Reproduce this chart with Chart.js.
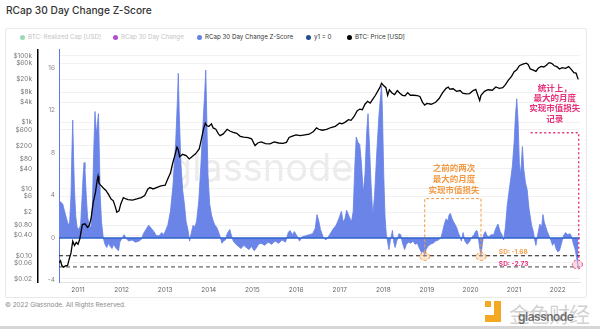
<!DOCTYPE html>
<html lang="zh">
<head>
  <meta charset="UTF-8">
  <title>RCap 30 Day Change Z-Score</title>
  <script src="https://cdn.jsdelivr.net/npm/chart.js"></script>
  <style>
    body {
      margin: 0;
      width: 600px;
      height: 329px;
      background: #fff;
      font-family: Inter, 'Noto Sans', sans-serif;
      position: relative;
      overflow: hidden;
    }
    .title { position: absolute; left: 6px; top: 4px; font-size: 10.2px; font-weight: 500; color: #333; }
    .card { position: absolute; left: 5px; top: 28px; width: 582px; height: 270px; border: 1px solid #e9e9e9; box-sizing: border-box; border-radius: 2px; }
    .item { position: absolute; top: 33px; font-size: 6.2px; line-height: 8px; white-space: nowrap; display: flex; align-items: center; color: #333; }
    .item.off { color: #c4c4c4; }
    .dot { width: 5px; height: 5px; border-radius: 50%; display: inline-block; margin-right: 3px; }
    #chart { position: absolute; left: 5px; top: 40px; }
    .footer { position: absolute; left: 5px; top: 301px; font-size: 6.4px; color: #8a8a8a; }
    .bottom-bar { position: absolute; left: 0; top: 326px; width: 600px; height: 3px; background: #d6d6d6; }
    .logo { position: absolute; background: #f3a922; }
    .logo-text { position: absolute; left: 509px; top: 298px; font-family: 'Noto Sans CJK SC'; font-size: 21px; color: rgba(150,150,150,0.45); letter-spacing: -1px; }
    .logo-sub { position: absolute; left: 518px; top: 309px; font-size: 12px; font-weight: 600; color: rgba(70,70,70,0.75); letter-spacing: -0.5px; }
  </style>
</head>
<body>
  <div class="title">RCap 30 Day Change Z-Score</div>
  <div class="card"></div>
  <div class="item off" style="left:20px"><span class="dot" style="background:#9adbb3"></span>BTC: Realized Cap [USD]</div>
  <div class="item off" style="left:113px"><span class="dot" style="background:#b04fcc"></span>RCap 30 Day Change</div>
  <div class="item" style="left:197px"><span class="dot" style="background:#6580e6"></span>RCap 30 Day Change Z-Score</div>
  <div class="item" style="left:306px"><span class="dot" style="background:#1f4f8f"></span>y1 = 0</div>
  <div class="item" style="left:347px"><span class="dot" style="background:#000"></span>BTC: Price [USD]</div>
  <canvas id="chart" width="582" height="257"></canvas>
  <div class="footer">© 2022 Glassnode. All Rights Reserved.</div>
  <div class="logo" style="left:485px;top:301px;width:6px;height:6px"></div>
  <div class="logo" style="left:494px;top:301px;width:7px;height:21px"></div>
  <div class="logo" style="left:485px;top:315px;width:16px;height:7px"></div>
  <div class="logo-text">金色财经</div>
  <div class="logo-sub">glassnode</div>
  <div class="bottom-bar"></div>
  <script>
    // 연도(소수) / Z-Score
    const zYears = [
      2010.56,2010.60,2010.65,2010.70,2010.74,2010.78,2010.81,2010.84,2010.86,2010.88,
      2010.90,2010.92,2010.95,2010.98,2011.02,2011.06,2011.09,2011.12,2011.14,2011.16,
      2011.19,2011.22,2011.26,2011.30,2011.33,2011.36,2011.39,2011.42,2011.44,2011.47,
      2011.49,2011.51,2011.54,2011.58,2011.62,2011.66,2011.70,2011.74,2011.78,2011.82,
      2011.86,2011.90,2011.93,2011.96,2012.00,2012.06,2012.10,2012.16,2012.24,2012.32,
      2012.40,2012.46,2012.50,2012.56,2012.62,2012.68,2012.74,2012.80,2012.86,2012.92,
      2012.96,2013.00,2013.06,2013.12,2013.18,2013.24,2013.28,2013.30,2013.32,2013.36,
      2013.40,2013.44,2013.48,2013.52,2013.56,2013.60,2013.64,2013.68,2013.72,2013.77,
      2013.82,2013.87,2013.91,2013.93,2013.95,2013.98,2014.02,2014.06,2014.10,2014.14,
      2014.18,2014.22,2014.26,2014.30,2014.34,2014.38,2014.42,2014.48,2014.52,2014.56,
      2014.62,2014.68,2014.74,2014.80,2014.86,2014.92,2014.98,2015.04,2015.08,2015.14,
      2015.20,2015.28,2015.36,2015.44,2015.52,2015.60,2015.68,2015.76,2015.82,2015.86,
      2015.92,2015.96,2016.02,2016.08,2016.14,2016.22,2016.30,2016.38,2016.44,2016.48,
      2016.52,2016.56,2016.62,2016.68,2016.74,2016.80,2016.86,2016.92,2016.98,2017.04,
      2017.08,2017.12,2017.16,2017.22,2017.27,2017.31,2017.35,2017.38,2017.42,2017.46,
      2017.50,2017.54,2017.58,2017.62,2017.65,2017.68,2017.72,2017.76,2017.80,2017.85,
      2017.90,2017.94,2017.96,2017.98,2018.01,2018.04,2018.07,2018.10,2018.13,2018.16,
      2018.21,2018.24,2018.27,2018.31,2018.36,2018.40,2018.44,2018.49,2018.53,2018.58,
      2018.63,2018.68,2018.73,2018.78,2018.83,2018.88,2018.92,2018.95,2018.98,2019.02,
      2019.08,2019.14,2019.20,2019.26,2019.32,2019.36,2019.40,2019.44,2019.48,2019.51,
      2019.54,2019.57,2019.60,2019.64,2019.68,2019.72,2019.75,2019.79,2019.83,2019.87,
      2019.92,2019.97,2020.02,2020.08,2020.13,2020.16,2020.20,2020.24,2020.27,2020.30,
      2020.34,2020.38,2020.42,2020.47,2020.53,2020.58,2020.63,2020.68,2020.72,2020.76,
      2020.80,2020.84,2020.88,2020.92,2020.96,2021.00,2021.03,2021.06,2021.09,2021.12,
      2021.15,2021.19,2021.22,2021.26,2021.30,2021.34,2021.40,2021.44,2021.47,2021.50,
      2021.54,2021.59,2021.63,2021.66,2021.69,2021.72,2021.76,2021.80,2021.84,2021.88,
      2021.92,2021.96,2022.00,2022.04,2022.08,2022.13,2022.18,2022.23,2022.28,2022.32,
      2022.36,2022.40,2022.43,2022.45,2022.47
    ];
    const zScores = [
      3.0,3.4,3.2,2.4,1.8,1.2,1.5,4.0,8.0,11.1,
      7.5,4.5,2.0,1.0,0.8,1.2,3.5,6.0,7.1,6.5,
      4.0,2.0,1.1,1.0,3.0,8.0,11.9,9.8,10.5,11.7,
      8.0,4.0,1.5,0.0,-0.6,-0.9,-0.5,-0.8,-1.0,-0.6,
      -0.9,-1.1,-1.2,-0.4,-0.1,0.3,0.0,-0.3,-0.2,-0.4,
      -0.3,-0.1,0.4,0.8,1.2,0.9,0.6,0.2,0.2,0.5,
      0.3,0.6,1.2,2.5,5.0,9.0,13.0,15.5,12.0,7.0,
      4.5,3.2,1.5,0.8,-0.3,0.5,1.2,1.0,1.6,3.5,
      7.0,11.0,14.0,15.8,12.0,6.0,3.2,2.2,1.6,1.2,
      1.0,0.6,0.1,-0.5,-0.3,-0.2,0.4,0.8,0.2,-0.3,
      -0.6,-0.8,-1.0,-0.7,-0.9,-1.1,-0.8,-1.2,-1.0,-0.6,
      -0.5,-0.7,-0.4,-0.6,-0.3,-0.5,-0.2,-0.4,0.5,0.7,
      0.3,0.6,0.2,-0.3,0.1,0.2,0.3,0.4,0.9,2.2,
      1.6,0.8,0.1,-0.2,0.1,0.5,0.9,1.2,1.8,2.5,
      1.5,1.8,2.6,2.0,1.5,2.5,7.0,9.5,9.0,8.8,
      7.0,4.2,6.0,10.0,11.7,9.0,5.0,2.1,4.0,8.0,
      11.5,13.5,14.3,12.0,6.0,2.0,0.3,-0.4,-1.1,-0.3,
      0.7,-0.4,-0.9,-0.3,0.4,0.3,-0.5,-1.1,-0.6,-0.4,
      -0.5,-0.3,-0.6,-0.5,-1.0,-1.4,-1.2,-1.75,-1.1,-0.8,
      -0.6,-0.5,-0.3,-0.2,0.0,0.6,1.3,1.8,1.6,2.2,
      2.3,1.9,1.6,1.3,1.0,0.5,0.2,-0.3,0.5,-0.3,
      -0.6,-0.4,0.0,0.3,0.7,0.6,-0.6,-1.75,-0.6,0.3,
      0.6,0.2,0.1,0.3,0.3,0.9,1.3,0.6,0.3,-0.2,
      1.0,3.0,4.3,5.5,6.8,9.0,11.5,13.1,11.0,7.0,
      6.0,8.6,6.5,5.2,4.5,2.8,1.2,0.6,-0.2,-0.7,
      0.3,1.3,1.0,2.2,1.5,1.1,0.6,0.2,-0.2,-0.7,
      -0.4,-1.0,-1.3,-1.2,-0.6,0.2,0.5,0.3,0.4,0.1,
      -0.6,-1.1,-1.8,-2.3,-2.8
    ];

    // 연도(소수) / BTC 가격 (USD)
    const priceYears = [
      2010.56,2010.60,2010.63,2010.67,2010.72,2010.76,2010.80,2010.84,2010.88,2010.92,
      2010.96,2011.00,2011.04,2011.10,2011.16,2011.22,2011.26,2011.30,2011.35,2011.40,
      2011.44,2011.46,2011.48,2011.52,2011.58,2011.64,2011.70,2011.76,2011.81,2011.86,
      2011.89,2011.94,2011.98,2012.04,2012.10,2012.15,2012.25,2012.35,2012.45,2012.53,
      2012.60,2012.65,2012.72,2012.80,2012.90,2013.00,2013.05,2013.12,2013.17,2013.22,
      2013.27,2013.30,2013.33,2013.40,2013.48,2013.55,2013.62,2013.70,2013.78,2013.82,
      2013.88,2013.92,2013.95,2014.00,2014.06,2014.10,2014.16,2014.22,2014.26,2014.33,
      2014.42,2014.48,2014.56,2014.64,2014.72,2014.80,2014.90,2014.98,2015.06,2015.12,
      2015.20,2015.30,2015.40,2015.50,2015.60,2015.70,2015.78,2015.84,2015.90,2016.00,
      2016.10,2016.20,2016.30,2016.40,2016.47,2016.52,2016.60,2016.70,2016.80,2016.90,
      2017.00,2017.05,2017.12,2017.20,2017.26,2017.33,2017.40,2017.46,2017.52,2017.58,
      2017.64,2017.70,2017.76,2017.82,2017.88,2017.92,2017.96,2018.00,2018.06,2018.10,
      2018.14,2018.20,2018.26,2018.32,2018.38,2018.44,2018.50,2018.56,2018.62,2018.70,
      2018.78,2018.84,2018.90,2018.95,2019.00,2019.10,2019.20,2019.28,2019.36,2019.44,
      2019.49,2019.52,2019.60,2019.68,2019.76,2019.82,2019.90,2019.98,2020.06,2020.12,
      2020.21,2020.24,2020.32,2020.40,2020.50,2020.58,2020.66,2020.74,2020.80,2020.86,
      2020.94,2021.00,2021.06,2021.12,2021.20,2021.28,2021.32,2021.37,2021.44,2021.50,
      2021.55,2021.62,2021.68,2021.74,2021.80,2021.86,2021.92,2021.98,2022.04,2022.10,
      2022.18,2022.25,2022.31,2022.37,2022.42,2022.45,2022.47
    ];
    const prices = [
      0.06,0.07,0.05,0.045,0.05,0.05,0.08,0.12,0.27,0.2,
      0.25,0.22,0.31,0.85,0.9,0.7,0.8,1.3,4,7.8,
      18,24,15,13,10.7,9,6.9,5,4.4,2.8,
      2.0,2.2,3.5,5.5,5.0,4.8,4.6,5.0,5.5,6.3,
      9.8,11,10,11,12.3,13,19,30,58,100,
      180,150,93,110,100,80,95,115,160,275,
      650,950,800,750,900,680,620,450,400,450,
      620,550,500,470,380,360,350,320,200,240,
      260,230,225,260,240,235,250,350,380,420,
      400,420,440,530,680,620,580,620,700,760,
      950,900,1000,1200,1150,1500,2200,2500,2400,3500,
      4300,3800,5000,6500,9000,11000,15000,13000,11000,6500,
      9500,7600,6800,9000,7500,6500,6300,7800,6500,6500,
      6300,6000,4000,3300,3700,3500,4000,5200,7800,10500,
      11500,10000,10200,8500,9000,7500,7200,7300,9000,9800,
      4500,6500,8500,9500,9200,11500,10500,11000,13500,18000,
      24000,33000,38000,50000,56000,60000,55000,40000,37000,34000,
      42000,48000,46000,52000,62000,59000,50000,47000,40000,44000,
      42000,47000,39000,31000,30000,23000,19500
    ];

    const yearTicks = [2011,2012,2013,2014,2015,2016,2017,2018,2019,2020,2021,2022];
    const zTicks = [-4, 0, 4, 8, 12, 16];
    const priceTicks = [0.02,0.06,0.1,0.4,0.8,2,6,10,40,80,200,600,1000,4000,8000,20000,60000,100000];
    const priceTickLabels = ['$0.02','$0.06','$0.10','$0.40','$0.80','$2','$6','$10','$40','$80','$200','$600','$1k','$4k','$8k','$20k','$60k','$100k'];
    const sdLevels = [-1.68, -2.73];

    // 주석 위치 (연도, z 값)
    const lossDates = [2018.95, 2020.24];
    const recordDate = 2022.47;

    const xMin = 2010.565, xMax = 2022.51;

    Chart.defaults.font.family = 'Inter, sans-serif';
    Chart.defaults.font.size = 6.5;

    const notes = {
      id: 'notes',
      beforeDatasetsDraw(chart) {
        const { ctx } = chart;
        ctx.save();
        ctx.font = '400 38px Inter, sans-serif';
        ctx.fillStyle = '#ececec';
        ctx.textAlign = 'center';
        ctx.textBaseline = 'alphabetic';
        ctx.fillText('glassnode', chart.scales.x.getPixelForValue(2015.2), chart.scales.z.getPixelForValue(5.4));
        ctx.restore();
      },
      afterDatasetsDraw(chart) {
        const { ctx } = chart;
        const px = v => chart.scales.x.getPixelForValue(v);
        const py = v => chart.scales.z.getPixelForValue(v);
        ctx.save();

        // 이전 두 번의 최대 손실
        const orange = '#f39a45';
        ctx.strokeStyle = orange;
        ctx.lineWidth = 1;
        ctx.setLineDash([3, 2]);
        ctx.beginPath();
        ctx.moveTo(px(lossDates[0]), py(-1.35));
        ctx.lineTo(px(lossDates[0]), py(3.7));
        ctx.lineTo(px(lossDates[1]), py(3.7));
        ctx.lineTo(px(lossDates[1]), py(-1.35));
        ctx.stroke();
        lossDates.forEach(d => {
          ctx.beginPath();
          ctx.ellipse(px(d), py(-1.75), 5, 4, 0, 0, Math.PI * 2);
          ctx.fillStyle = 'rgba(250,200,150,0.45)';
          ctx.fill();
          ctx.stroke();
        });

        // 역대 최대 손실
        const pink = '#e8307a';
        ctx.strokeStyle = pink;
        ctx.lineWidth = 1.4;
        ctx.setLineDash([2, 2.5]);
        ctx.beginPath();
        ctx.moveTo(px(2021.38), py(9.9));
        ctx.lineTo(px(recordDate + 0.01), py(9.9));
        ctx.lineTo(px(recordDate + 0.01), py(-2.1));
        ctx.stroke();
        ctx.lineWidth = 1;
        ctx.beginPath();
        ctx.ellipse(px(recordDate - 0.02), py(-2.5), 5, 4.5, 0, 0, Math.PI * 2);
        ctx.fillStyle = 'rgba(245,170,200,0.45)';
        ctx.fill();
        ctx.stroke();
        ctx.setLineDash([]);

        ctx.textAlign = 'center';
        ctx.textBaseline = 'middle';
        ctx.font = 'bold 8.5px "Noto Sans CJK SC", sans-serif';
        ctx.fillStyle = orange;
        ['之前的两次', '最大的月度', '实现市值损失'].forEach((t, i) => {
          ctx.fillText(t, px(2019.62), py(6.6) + i * 11);
        });
        ctx.fillStyle = pink;
        ['统计上，', '最大的月度', '实现市值损失', '记录'].forEach((t, i) => {
          ctx.fillText(t, px(2021.93), py(14.15) + i * 10.3);
        });

        ctx.textAlign = 'left';
        ctx.font = 'bold 6.5px Inter, sans-serif';
        ctx.fillStyle = '#f0a050';
        ctx.fillText('SD: -1.68', px(2020.65), py(-1.33));
        ctx.fillStyle = pink;
        ctx.fillText('SD: -2.73', px(2020.65), py(-2.42));
        ctx.restore();
      }
    };

    const flat = v => [{ x: xMin, y: v }, { x: xMax, y: v }];

    new Chart(document.getElementById('chart'), {
      type: 'line',
      data: {
        datasets: [
          {
            label: 'BTC: Price [USD]',
            data: priceYears.map((x, i) => ({ x, y: prices[i] })),
            yAxisID: 'price',
            borderColor: '#000',
            borderWidth: 1.3,
            pointRadius: 0,
            fill: false
          },
          {
            label: 'SD -1.68',
            data: flat(sdLevels[0]),
            yAxisID: 'z',
            borderColor: '#1a1a1a',
            borderWidth: 1,
            borderDash: [4, 3],
            pointRadius: 0
          },
          {
            label: 'SD -2.73',
            data: flat(sdLevels[1]),
            yAxisID: 'z',
            borderColor: '#444',
            borderWidth: 1,
            borderDash: [4, 3],
            pointRadius: 0
          },
          {
            label: 'y1 = 0',
            data: flat(0),
            yAxisID: 'z',
            borderColor: '#2e62c8',
            borderWidth: 1.5,
            pointRadius: 0
          },
          {
            label: 'RCap 30 Day Change Z-Score',
            data: zYears.map((x, i) => ({ x, y: zScores[i] })),
            yAxisID: 'z',
            borderColor: '#6580e6',
            backgroundColor: '#6a84e8',
            borderWidth: 0.8,
            pointRadius: 0,
            fill: 'origin'
          }
        ]
      },
      options: {
        responsive: false,
        animation: false,
        layout: { padding: { left: 0, right: 7, top: 3, bottom: 0 } },
        plugins: { legend: { display: false }, tooltip: { enabled: false } },
        scales: {
          x: {
            type: 'linear',
            min: xMin,
            max: xMax,
            afterBuildTicks: axis => { axis.ticks = yearTicks.map(v => ({ value: v })); },
            afterFit: axis => { axis.height = 15; },
            ticks: { callback: v => String(v), color: '#666', padding: 4, autoSkip: false, maxRotation: 0 },
            grid: { display: false, drawTicks: false },
            border: { display: true, color: '#e2e2e2' }
          },
          price: {
            type: 'logarithmic',
            position: 'left',
            weight: 1,
            min: 0.0161,
            max: 149600,
            afterBuildTicks: axis => { axis.ticks = priceTicks.map(v => ({ value: v })); },
            afterFit: axis => { axis.width = 33; },
            ticks: { callback: (v, i) => priceTickLabels[i], color: '#777', padding: 6, autoSkip: false },
            grid: { color: '#f1f1f1', drawTicks: false },
            border: { display: true, color: '#000', width: 1.5 }
          },
          z: {
            type: 'linear',
            position: 'left',
            weight: 0,
            min: -4.15,
            max: 17.7,
            afterBuildTicks: axis => { axis.ticks = zTicks.map(v => ({ value: v })); },
            afterFit: axis => { axis.width = 21; },
            ticks: { color: '#888', padding: 4, autoSkip: false },
            grid: { display: false, drawTicks: false },
            border: { display: true, color: '#5b78e4', width: 1 }
          }
        }
      },
      plugins: [notes]
    });
  </script>
</body>
</html>
